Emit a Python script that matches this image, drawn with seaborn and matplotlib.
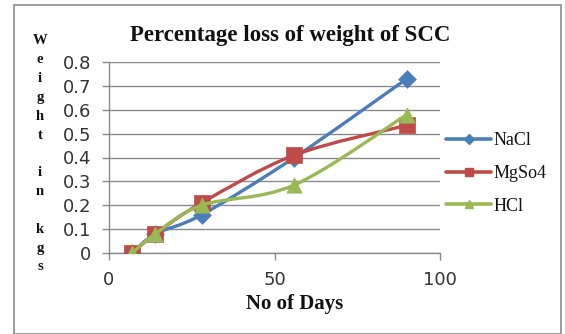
import numpy as np
import pandas as pd
import seaborn as sns
import matplotlib.pyplot as plt
from matplotlib.path import Path
from matplotlib.patches import PathPatch, Rectangle
from matplotlib.lines import Line2D

days = [7, 14, 28, 56, 90]
nacl = [0.0, 0.08, 0.16, 0.40, 0.73]
mgso4 = [0.0, 0.08, 0.21, 0.41, 0.535]
hcl = [0.0, 0.08, 0.20, 0.285, 0.58]
series_names = ["NaCl", "MgSo4", "HCl"]
x_ticks = [0, 50, 100]
y_ticks = [0, 0.1, 0.2, 0.3, 0.4, 0.5, 0.6, 0.7, 0.8]

colors = ["#4A7EBB", "#BE4B48", "#98B954"]
markers = ["D", "s", "^"]
msizes = [9, 11, 11]

sns.set_theme(style="white")
plt.rcParams["font.family"] = ["DejaVu Sans"]

fig = plt.figure(figsize=(5.65, 3.34), dpi=100)
fig.patch.set_facecolor("white")
fig.patches.append(Rectangle((14 / 565, 0.0), 547 / 565, 1 - 5 / 334,
                             transform=fig.transFigure, fill=False,
                             edgecolor="#8c8c8c", linewidth=1.2))

ax = fig.add_axes([109 / 565, 1 - 253 / 334, 331 / 565, 191 / 334])

df = pd.DataFrame({"days": days * 3,
                   "value": nacl + mgso4 + hcl,
                   "series": np.repeat(series_names, len(days))})


def smooth_path(xs, ys):
    """Catmull-Rom style smoothed path through the points, as cubic Beziers."""
    pts = np.column_stack([xs, ys]).astype(float)
    ext = np.vstack([pts[0], pts, pts[-1]])
    verts = [tuple(pts[0])]
    codes = [Path.MOVETO]
    for i in range(len(pts) - 1):
        p0, p1, p2, p3 = ext[i], ext[i + 1], ext[i + 2], ext[i + 3]
        c1 = p1 + (p2 - p0) / 6.0
        c2 = p2 - (p3 - p1) / 6.0
        verts += [tuple(c1), tuple(c2), tuple(p2)]
        codes += [Path.CURVE4] * 3
    return Path(verts, codes)


for k, name in enumerate(series_names):
    sub = df[df["series"] == name]
    path = smooth_path(sub["days"].to_numpy(), sub["value"].to_numpy())
    ax.add_patch(PathPatch(path, fill=False, edgecolor=colors[k],
                           linewidth=2.4, zorder=3 + 2 * k, capstyle="round"))
    sns.scatterplot(data=sub, x="days", y="value", ax=ax, color=colors[k],
                    marker=markers[k], s=msizes[k] ** 2, edgecolor=colors[k],
                    linewidth=0.5, zorder=4 + 2 * k, legend=False)

ax.set_xlim(0, 100)
ax.set_ylim(0, 0.8)
ax.set_xticks(x_ticks)
ax.set_yticks(y_ticks)
ax.set_xticklabels([str(t) for t in x_ticks])
ax.set_yticklabels(["0"] + [f"{t:.1f}" for t in y_ticks[1:]])
ax.grid(axis="y", color="#8a8a8a", linewidth=1.0)
ax.grid(axis="x", visible=False)
for side in ["top", "right"]:
    ax.spines[side].set_visible(False)
for side in ["left", "bottom"]:
    ax.spines[side].set_color("#8a8a8a")
    ax.spines[side].set_linewidth(1.0)
ax.tick_params(axis="both", which="major", length=5, width=1.0,
               color="#8a8a8a", direction="out", labelsize=13,
               labelcolor="#333333")
ax.tick_params(axis="y", pad=8)
ax.tick_params(axis="x", pad=8)
ax.tick_params(axis="both", left=True, bottom=True)
ax.set_xlabel("")
ax.set_ylabel("")
ax.set_facecolor("white")

serif = ["Liberation Serif", "DejaVu Serif"]
fig.text(290 / 565, 1 - 35 / 334, "Percentage loss of weight of SCC",
         ha="center", va="center", family=serif, fontweight="bold",
         fontsize=16.5, color="#111111")
fig.text(295 / 565, 1 - 304 / 334, "No of Days", ha="center", va="center",
         family=serif, fontweight="bold", fontsize=15, color="#111111")

ylabel_chars = list("Weight") + [""] + list("in") + [""] + list("kgs")
y0, y1 = 41, 267
for i, ch in enumerate(ylabel_chars):
    yy = y0 + (y1 - y0) * i / (len(ylabel_chars) - 1)
    if ch:
        fig.text(40 / 565, 1 - yy / 334, ch, ha="center", va="center",
                 family=serif, fontweight="bold", fontsize=10.5,
                 color="#111111")

handles = [Line2D([0], [0], color=colors[k], linewidth=2.6, marker=markers[k],
                  markersize=msizes[k] * 0.55, markeredgecolor=colors[k])
           for k in range(3)]
leg = fig.legend(handles, series_names, loc="upper left",
                 bbox_to_anchor=(446 / 565, 1 - 132 / 334), frameon=False,
                 prop={"family": serif, "size": 13}, handlelength=2.5,
                 handletextpad=0.15, labelspacing=0.88, borderaxespad=0,
                 borderpad=0)
for t in leg.get_texts():
    t.set_color("#111111")

fig.savefig("out.png", dpi=100)
